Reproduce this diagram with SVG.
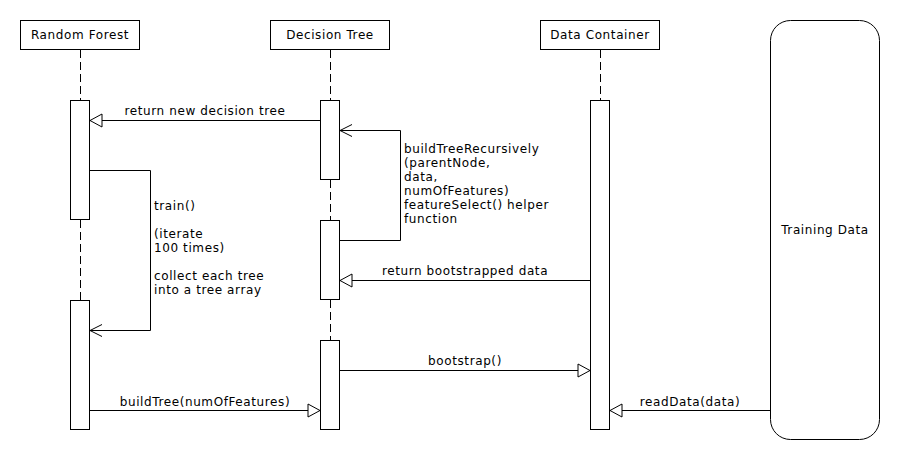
<svg xmlns="http://www.w3.org/2000/svg" width="900" height="460" viewBox="0 0 900 460">
<defs>
<style>
.box{fill:#fff;stroke:#000;stroke-width:1}
.life{stroke:#000;stroke-width:1;stroke-dasharray:8 4;fill:none}
.msg{stroke:#000;stroke-width:1;fill:none}
.tri{marker-end:url(#tri)}
.open{marker-end:url(#open)}
text{font-family:"DejaVu Sans","Liberation Sans",sans-serif;font-size:12px;letter-spacing:0.6px;fill:#000}
.c{text-anchor:middle}
</style>
<marker id="tri" markerUnits="userSpaceOnUse" markerWidth="14" markerHeight="15" refX="12" refY="6.5" orient="auto" overflow="visible">
<path d="M0,0 L12,6.5 L0,13 Z" fill="#fff" stroke="#000" stroke-width="1"/>
</marker>
<marker id="open" markerUnits="userSpaceOnUse" markerWidth="14" markerHeight="14" refX="12" refY="6" orient="auto" overflow="visible">
<path d="M0,0 L12,6 L0,12" fill="none" stroke="#000" stroke-width="1"/>
</marker>
</defs>
<rect width="900" height="460" fill="#fff"/>

<g id="random-forest">
<rect class="box" x="20.5" y="20.5" width="119" height="29"/>
<text class="c" x="80" y="39">Random Forest</text>
<line class="life" x1="80.5" y1="50" x2="80.5" y2="100"/>
<line class="life" x1="80.5" y1="220" x2="80.5" y2="300"/>
<rect class="box" x="70.5" y="100.5" width="19" height="119"/>
<rect class="box" x="70.5" y="300.5" width="19" height="129"/>
</g>

<g id="decision-tree">
<rect class="box" x="270.5" y="20.5" width="119" height="29"/>
<text class="c" x="330" y="39">Decision Tree</text>
<line class="life" x1="330.5" y1="50" x2="330.5" y2="100"/>
<line class="life" x1="330.5" y1="180" x2="330.5" y2="220"/>
<line class="life" x1="330.5" y1="300" x2="330.5" y2="340"/>
<rect class="box" x="320.5" y="100.5" width="19" height="79"/>
<rect class="box" x="320.5" y="220.5" width="19" height="79"/>
<rect class="box" x="320.5" y="340.5" width="19" height="89"/>
</g>

<g id="data-container">
<rect class="box" x="540.5" y="20.5" width="119" height="29"/>
<text class="c" x="600" y="39">Data Container</text>
<line class="life" x1="600.5" y1="50" x2="600.5" y2="100"/>
<rect class="box" x="590.5" y="100.5" width="19" height="329"/>
</g>

<g id="training-data">
<rect class="box" x="770.5" y="20.5" width="109" height="419" rx="20" ry="20"/>
<text class="c" x="825" y="234">Training Data</text>
</g>

<g id="connectors">
<line class="msg tri" x1="320" y1="120.5" x2="90" y2="120.5"/>
<text class="c" x="205" y="115">return new decision tree</text>

<polyline class="msg open" points="339.5,240.5 400.5,240.5 400.5,130.5 340,130.5"/>
<text x="404" y="153">buildTreeRecursively</text>
<text x="404" y="167">(parentNode,</text>
<text x="404" y="181">data,</text>
<text x="404" y="195">numOfFeatures)</text>
<text x="404" y="209">featureSelect() helper</text>
<text x="404" y="223">function</text>

<polyline class="msg open" points="89.5,170.5 150.5,170.5 150.5,330.5 90,330.5"/>
<text x="154" y="210">train()</text>
<text x="154" y="238">(iterate</text>
<text x="154" y="252">100 times)</text>
<text x="154" y="280">collect each tree</text>
<text x="154" y="294">into a tree array</text>

<line class="msg tri" x1="590" y1="280.5" x2="340" y2="280.5"/>
<text class="c" x="465" y="275">return bootstrapped data</text>

<line class="msg tri" x1="340" y1="370.5" x2="590" y2="370.5"/>
<text class="c" x="465" y="365">bootstrap()</text>

<line class="msg tri" x1="90" y1="410.5" x2="320" y2="410.5"/>
<text class="c" x="205" y="405.5">buildTree(numOfFeatures)</text>

<line class="msg tri" x1="770" y1="410.5" x2="610" y2="410.5"/>
<text class="c" x="690" y="405.5">readData(data)</text>
</g>
</svg>
